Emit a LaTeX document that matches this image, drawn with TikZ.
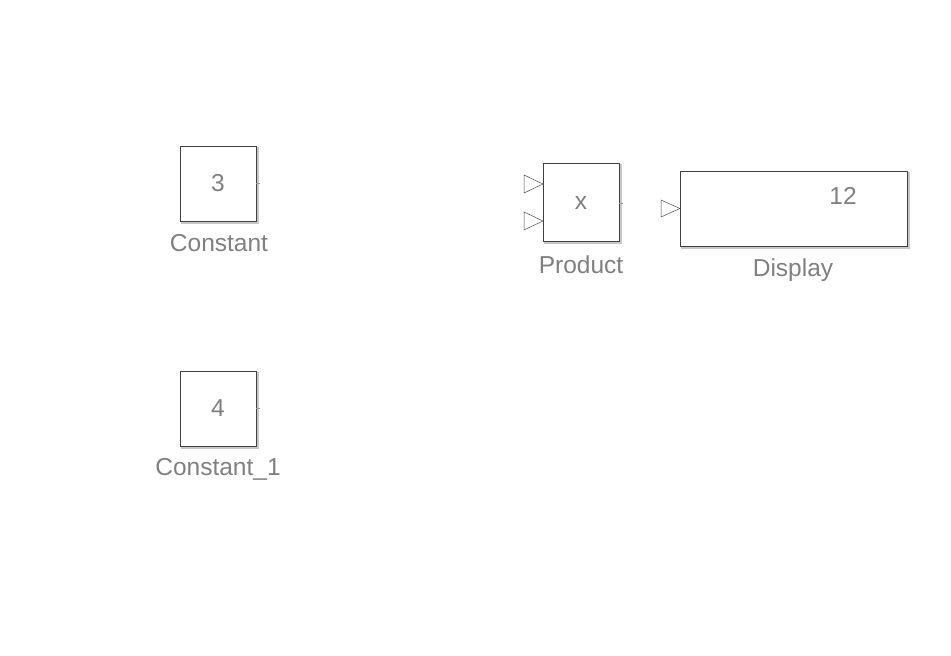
\documentclass[tikz,border=0pt]{standalone}
\usepackage{fontspec}
\setmainfont{Liberation Sans}
\begin{document}
\begin{tikzpicture}[x=1pt,y=-1pt,
  block/.style={draw=black!75,line width=0.6pt,fill=white,
    preaction={draw=black!22,line width=2pt,transform canvas={xshift=1.5pt,yshift=-1.5pt}}},
  txt/.style={text=black!50,font=\fontsize{24.5}{24.5}\selectfont,inner sep=0pt},
  port/.style={draw=black!70,line width=0.5pt,fill=white},
  tick/.style={draw=black!40,line width=0.6pt}]
\useasboundingbox (0,0) rectangle (951,656);

% Constant
\draw[block] (180,146) rectangle (256,221);
\node[txt] (c1v) at (218,183) {3};
\node[txt] (c1l) at (219,243.5) {Constant};
\draw[tick] (256,183) -- (260,183);

% Constant_1
\draw[block] (180,371) rectangle (256,446);
\node[txt] (c2v) at (218,408) {4};
\node[txt] (c2l) at (218,469) {Constant\_1};
\draw[tick] (256,408) -- (260,408);

% Product
\draw[block] (543,163) rectangle (619,241);
\node[txt] (pv) at (581,203) {x};
\node[txt] (pl) at (581,264.5) {Product};
\draw[port] (524,175) -- (543,184) -- (524,193) -- cycle;
\draw[port] (524,212) -- (543,221) -- (524,230) -- cycle;
\draw[tick] (619,203) -- (623,203);

% Display
\draw[block] (680,171) rectangle (907,246);
\node[txt] (dv) at (843,196) {12};
\node[txt] (dl) at (793,270.5) {Display};
\draw[port] (661,200) -- (680,208.5) -- (661,217) -- cycle;
\end{tikzpicture}
\end{document}
